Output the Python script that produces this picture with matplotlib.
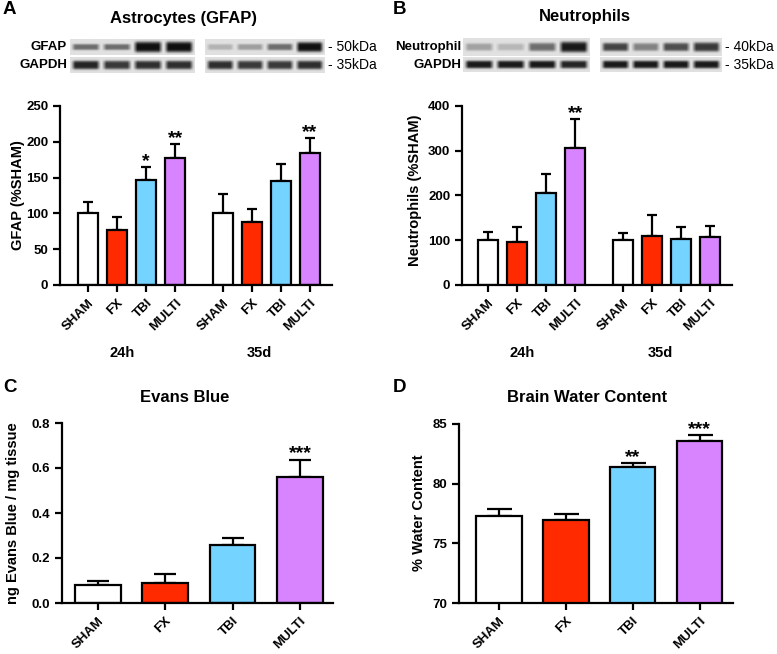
import numpy as np
import matplotlib
matplotlib.use('Agg')
import matplotlib.pyplot as plt

plt.rcParams['font.family'] = ['Liberation Sans', 'DejaVu Sans']
plt.rcParams['font.weight'] = 'bold'

# ---- data ----
groups = ['SHAM', 'FX', 'TBI', 'MULTI']
colors = ['#ffffff', '#ff2a00', '#74d3ff', '#d884ff']

gfap_24h = [101, 77.5, 146.5, 177]
gfap_24h_err = [14.5, 17, 18, 19.5]
gfap_35d = [101, 87.5, 145, 184]
gfap_35d_err = [26.5, 18, 23.5, 21]
gfap_stars = ['', '', '*', '**', '', '', '', '**']

neut_24h = [101, 95, 205, 306]
neut_24h_err = [17, 35, 42, 64]
neut_35d = [101, 109.5, 103.5, 108]
neut_35d_err = [16, 46, 25.5, 24]
neut_stars = ['', '', '', '**', '', '', '', '']

evans = [0.079, 0.091, 0.257, 0.558]
evans_err = [0.019, 0.040, 0.030, 0.078]
evans_stars = ['', '', '', '***']

water = [77.26, 76.95, 81.36, 83.57]
water_err = [0.64, 0.51, 0.36, 0.48]
water_stars = ['', '', '**', '***']

timepoints = ['24h', '35d']

# western blot band strength (0-1) and thickness, per lane
gfap_bands = [0.55, 0.55, 1.0, 1.0, 0.22, 0.32, 0.55, 1.0]
gfap_thick = [0.28, 0.28, 0.85, 0.85, 0.25, 0.28, 0.35, 0.75]
gfap_gapdh = [0.9, 0.8, 0.85, 0.85, 0.85, 0.8, 0.8, 0.85]
neut_bands = [0.30, 0.20, 0.55, 0.95, 0.75, 0.45, 0.70, 0.80]
neut_thick = [0.35, 0.30, 0.45, 0.70, 0.45, 0.40, 0.45, 0.55]
neut_gapdh = [0.95, 0.95, 0.95, 0.9, 0.95, 0.95, 0.95, 0.95]

W, H = 777, 654
fig = plt.figure(figsize=(W / 100, H / 100), dpi=100)


def px_axes(x0, y0, x1, y1):
    return fig.add_axes([x0 / W, 1 - y1 / H, (x1 - x0) / W, (y1 - y0) / H])


def ftext(x, y, s, **kw):
    fig.text(x / W, 1 - y / H, s, **kw)


def blot(x0, y0, x1, y1, levels, thick):
    ax = px_axes(x0, y0, x1, y1)
    ny, nx = 40, 160
    yy = np.linspace(-1, 1, ny)[:, None]
    xx = np.linspace(0, 4, nx)[None, :]
    img = np.full((ny, nx), 0.88)
    for i, (lv, th) in enumerate(zip(levels, thick)):
        dx = np.abs(xx - (i + 0.5))
        horiz = np.clip((0.48 - dx) / 0.14, 0, 1)
        vert = np.exp(-(yy / (0.25 + 0.5 * th)) ** 4)
        img = img - 0.82 * lv * horiz * vert
    ax.imshow(np.clip(img, 0, 1), cmap='gray', vmin=0, vmax=1,
              aspect='auto', interpolation='bilinear')
    ax.axis('off')


def bar_panel(ax, pos, vals, errs, cols, stars, cap, star_size=14):
    ax.bar(pos, vals, width=0.68, color=cols, edgecolor='black',
           linewidth=1.6, zorder=2)
    ax.errorbar(pos, vals, yerr=[np.zeros(len(vals)), errs], fmt='none',
                ecolor='black', elinewidth=1.6, capsize=cap, capthick=1.6,
                zorder=1)
    for p, v, e, s in zip(pos, vals, errs, stars):
        if s:
            ax.annotate(s, (p, v + e), xytext=(0, 1), textcoords='offset points',
                        ha='center', va='baseline', fontsize=star_size,
                        fontweight='bold')
    for side in ['top', 'right']:
        ax.spines[side].set_visible(False)
    for side in ['left', 'bottom']:
        ax.spines[side].set_linewidth(1.6)
    ax.tick_params(direction='out', length=5, width=1.6, labelsize=9.5)
    ax.set_xticks(pos)
    for lab in ax.get_yticklabels():
        lab.set_fontweight('bold')


# ---- panel A ----
pos8 = [0, 1, 2, 3, 4.65, 5.65, 6.65, 7.65]
ax = px_axes(60, 106, 332, 285)
bar_panel(ax, pos8, gfap_24h + gfap_35d, gfap_24h_err + gfap_35d_err,
          colors * 2, gfap_stars, 3.6)
ax.set_xlim(-0.97, 8.41)
ax.set_ylim(0, 250)
ax.set_yticks([0, 50, 100, 150, 200, 250])
ax.set_xticklabels(groups * 2, rotation=45, ha='right', rotation_mode='anchor',
                   fontsize=9.5, fontweight='bold')
ftext(18, 195, 'GFAP (%SHAM)', rotation=90, ha='center', va='center',
      fontsize=10.5, fontweight='bold')
ftext(122, 353, timepoints[0], ha='center', va='center', fontsize=10.5)
ftext(259, 353, timepoints[1], ha='center', va='center', fontsize=10.5)

blot(70, 39, 195, 55, gfap_bands[:4], gfap_thick[:4])
blot(205, 39, 325, 55, gfap_bands[4:], gfap_thick[4:])
blot(70, 57, 195, 73, gfap_gapdh[:4], [0.6] * 4)
blot(205, 57, 325, 73, gfap_gapdh[4:], [0.6] * 4)
ftext(67, 47, 'GFAP', ha='right', va='center', fontsize=9.5)
ftext(67, 65, 'GAPDH', ha='right', va='center', fontsize=9.5)
ftext(328, 47, '- 50kDa', ha='left', va='center', fontsize=10, fontweight='normal')
ftext(328, 65, '- 35kDa', ha='left', va='center', fontsize=10, fontweight='normal')
ftext(184, 18, 'Astrocytes (GFAP)', ha='center', va='center', fontsize=12)
ftext(3, 10, 'A', ha='left', va='center', fontsize=13.5)

# ---- panel B ----
ax = px_axes(462, 106, 732, 285)
bar_panel(ax, pos8, neut_24h + neut_35d, neut_24h_err + neut_35d_err,
          colors * 2, neut_stars, 3.6)
ax.set_xlim(-0.9, 8.41)
ax.set_ylim(0, 400)
ax.set_yticks([0, 100, 200, 300, 400])
ax.set_xticklabels(groups * 2, rotation=45, ha='right', rotation_mode='anchor',
                   fontsize=9.5, fontweight='bold')
ftext(415, 190, 'Neutrophils (%SHAM)', rotation=90, ha='center', va='center',
      fontsize=10.5, fontweight='bold')
ftext(522, 353, timepoints[0], ha='center', va='center', fontsize=10.5)
ftext(660, 353, timepoints[1], ha='center', va='center', fontsize=10.5)

blot(463, 38, 590, 56, neut_bands[:4], neut_thick[:4])
blot(600, 38, 722, 56, neut_bands[4:], neut_thick[4:])
blot(463, 57, 590, 72, neut_gapdh[:4], [0.55] * 4)
blot(600, 57, 722, 72, neut_gapdh[4:], [0.55] * 4)
ftext(461, 47, 'Neutrophil', ha='right', va='center', fontsize=9.5)
ftext(461, 65, 'GAPDH', ha='right', va='center', fontsize=9.5)
ftext(725, 47, '- 40kDa', ha='left', va='center', fontsize=10, fontweight='normal')
ftext(725, 65, '- 35kDa', ha='left', va='center', fontsize=10, fontweight='normal')
ftext(585, 17, 'Neutrophils', ha='center', va='center', fontsize=12)
ftext(393, 10, 'B', ha='left', va='center', fontsize=13.5)

# ---- panel C ----
pos4 = [0, 1, 2, 3]
ax = px_axes(62, 423, 333, 603)
bar_panel(ax, pos4, evans, evans_err, colors, evans_stars, 8)
ax.set_xlim(-0.53, 3.49)
ax.set_ylim(0, 0.8)
ax.set_yticks([0.0, 0.2, 0.4, 0.6, 0.8])
ax.set_yticklabels(['0.0', '0.2', '0.4', '0.6', '0.8'], fontweight='bold')
ax.set_xticklabels(groups, rotation=45, ha='right', rotation_mode='anchor',
                   fontsize=9.5, fontweight='bold')
ftext(13, 513, 'ng Evans Blue / mg tissue', rotation=90, ha='center',
      va='center', fontsize=10.5, fontweight='bold')
ftext(185, 398, 'Evans Blue', ha='center', va='center', fontsize=12)
ftext(3, 388, 'C', ha='left', va='center', fontsize=13.5)

# ---- panel D ----
ax = px_axes(459, 424, 733, 603)
bar_panel(ax, pos4, water, water_err, colors, water_stars, 9)
ax.set_xlim(-0.6, 3.5)
ax.set_ylim(70, 85)
ax.set_yticks([70, 75, 80, 85])
ax.set_xticklabels(groups, rotation=45, ha='right', rotation_mode='anchor',
                   fontsize=9.5, fontweight='bold')
ftext(419, 513, '% Water Content', rotation=90, ha='center', va='center',
      fontsize=10.5, fontweight='bold')
ftext(587, 398, 'Brain Water Content', ha='center', va='center', fontsize=12)
ftext(393, 388, 'D', ha='left', va='center', fontsize=13.5)

fig.savefig('out.png', dpi=100)
